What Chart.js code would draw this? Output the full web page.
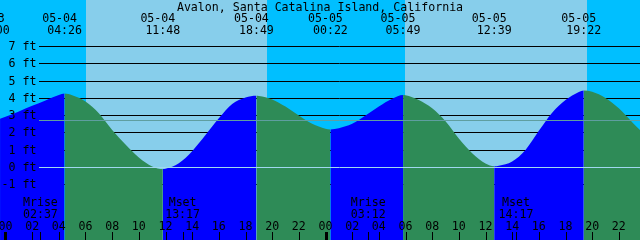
<!DOCTYPE html>
<html>
<head>
<meta charset="utf-8">
<script src="https://cdn.jsdelivr.net/npm/chart.js@4.4.0/dist/chart.umd.min.js"></script>
<style>
  html, body { margin: 0; padding: 0; background: #00bfff; }
  #wrap { width: 640px; height: 240px; }
</style>
</head>
<body>
<div id="wrap"><canvas id="tide-chart" width="640" height="240"></canvas></div>
<script>
const title = 'Avalon, Santa Catalina Island, California';

// tide curve, hours from 05-04 00:00 and height in ft
const tideHour = [
  -0.41, 0, 1, 2, 3, 4, 4.43, 5, 6, 7, 8, 9, 10, 11, 11.8,
  12, 13, 14, 15, 16, 17, 18, 18.82, 19, 20, 21, 22, 23, 24, 24.37,
  25, 26, 27, 28, 29, 29.82, 30, 31, 32, 33, 34, 35, 36, 36.65,
  37, 38, 39, 40, 41, 42, 43, 43.37, 44, 45, 46, 47, 47.59,
];
const tideFt = [
  2.8, 2.92, 3.22, 3.55, 3.86, 4.17, 4.26, 4.16, 3.8, 3.12, 2.15, 1.3, 0.55, 0.03, -0.12,
  -0.1, 0.22, 0.92, 1.85, 2.82, 3.65, 4.03, 4.13, 4.12, 3.92, 3.5, 2.98, 2.5, 2.22, 2.18,
  2.25, 2.5, 2.98, 3.5, 3.95, 4.17, 4.16, 3.88, 3.4, 2.65, 1.65, 0.8, 0.2, 0.04,
  0.07, 0.32, 0.99, 2.1, 3.15, 3.88, 4.35, 4.44, 4.36, 4.0, 3.4, 2.6, 2.14,
];

// high / low labels along the top
const eventDay = [-1, 0, 0, 0, 1, 1, 1, 1];
const eventDate = ['05-03', '05-04', '05-04', '05-04', '05-05', '05-05', '05-05', '05-05'];
const eventTime = ['23:00', '04:26', '11:48', '18:49', '00:22', '05:49', '12:39', '19:22'];

// daylight bands
const sunDay = [0, 1];
const sunriseTime = ['06:02', '05:58'];
const sunsetTime = ['19:35', '19:37'];

// moon events along the bottom
const moonDay = [0, 0, 1, 1];
const moonLabel = ['Mrise', 'Mset', 'Mrise', 'Mset'];
const moonTime = ['02:37', '13:17', '03:12', '14:17'];

const hourTicks = [0, 2, 4, 6, 8, 10, 12, 14, 16, 18, 20, 22, 24, 26, 28, 30, 32, 34, 36, 38, 40, 42, 44, 46];
const footTicks = [7, 6, 5, 4, 3, 2, 1, 0, -1];
const datumFt = 0;
const meanFt = 2.72;

const FONT = '11.6px "DejaVu Sans Mono", "Liberation Mono", monospace';
const RISE = '#0000ff';
const FALL = '#2e8b57';

const toHour = (day, hhmm) => {
  const [h, m] = hhmm.split(':').map(Number);
  return day * 24 + h + m / 60;
};
const pad2 = (n) => String(n).padStart(2, '0');

const decor = {
  id: 'tideDecor',
  beforeDatasetsDraw(chart) {
    const { ctx, chartArea: a, scales: { x, y } } = chart;
    ctx.save();
    ctx.fillStyle = '#00bfff';
    ctx.fillRect(a.left, a.top, a.width, a.height);
    ctx.fillStyle = '#87ceeb';
    sunriseTime.forEach((t, i) => {
      const x0 = Math.round(x.getPixelForValue(toHour(sunDay[i], t)));
      const x1 = Math.round(x.getPixelForValue(toHour(sunDay[i], sunsetTime[i])));
      ctx.fillRect(x0, a.top, x1 - x0, a.height);
    });
    ctx.strokeStyle = '#000';
    ctx.lineWidth = 1;
    footTicks.forEach((ft) => {
      if (ft === datumFt) return;
      const py = Math.round(y.getPixelForValue(ft)) + 0.5;
      ctx.beginPath();
      ctx.moveTo(39, py);
      ctx.lineTo(a.right, py);
      ctx.stroke();
    });
    ctx.restore();
  },
  afterDatasetsDraw(chart) {
    const { ctx, chartArea: a, scales: { x, y } } = chart;
    ctx.save();
    const hline = (ft, color) => {
      const py = Math.round(y.getPixelForValue(ft)) + 0.5;
      ctx.strokeStyle = color;
      ctx.lineWidth = 1;
      ctx.beginPath();
      ctx.moveTo(39, py);
      ctx.lineTo(a.right, py);
      ctx.stroke();
    };
    hline(meanFt, '#5f9ea0');
    hline(datumFt, '#a0d8ef');

    ctx.font = FONT;
    ctx.fillStyle = '#000';
    ctx.textBaseline = 'alphabetic';

    // y labels
    ctx.textAlign = 'right';
    footTicks.forEach((ft) => {
      ctx.fillText(`${ft} ft`, 36.5, Math.round(y.getPixelForValue(ft)) + 4);
    });

    ctx.textAlign = 'center';
    ctx.fillText(title, 320, 10.5);

    eventTime.forEach((t, i) => {
      const px = x.getPixelForValue(toHour(eventDay[i], t));
      ctx.fillText(eventDate[i], px - 5, 21.5);
      ctx.fillText(t, px, 34);
    });

    moonTime.forEach((t, i) => {
      const px = x.getPixelForValue(toHour(moonDay[i], t));
      ctx.fillText(moonLabel[i], px, 206);
      ctx.fillText(t, px, 217.5);
      ctx.fillRect(Math.round(px), 232, 1, 8);
    });

    hourTicks.forEach((h) => {
      const px = x.getPixelForValue(h);
      ctx.fillText(pad2(h % 24), px, 229.5);
      if (h % 24 === 0) ctx.fillRect(Math.round(px) - 1, 232, 3, 8);
      else ctx.fillRect(Math.round(px), 232, 1, 8);
    });
    ctx.restore();
  },
};

const init = () => {
  const canvas = document.getElementById('tide-chart');
  if (!canvas) return;
  new Chart(canvas, {
    type: 'line',
    data: {
      datasets: [{
        data: tideHour.map((h, i) => ({ x: h, y: tideFt[i] })),
        fill: 'start',
        backgroundColor: RISE,
        borderColor: 'rgba(0,0,0,0)',
        borderWidth: 0,
        pointRadius: 0,
        cubicInterpolationMode: 'monotone',
        segment: {
          backgroundColor: (c) => (c.p1.parsed.y >= c.p0.parsed.y ? RISE : FALL),
        },
      }],
    },
    options: {
      responsive: false,
      animation: false,
      devicePixelRatio: 1,
      layout: { padding: 0 },
      scales: {
        x: { type: 'linear', min: -0.4125, max: 47.5875, display: false },
        y: { type: 'linear', min: -4.232, max: 9.681, display: false },
      },
      plugins: {
        legend: { display: false },
        tooltip: { enabled: false },
      },
    },
    plugins: [decor],
  });
};

document.addEventListener('DOMContentLoaded', init);
</script>
</body>
</html>
